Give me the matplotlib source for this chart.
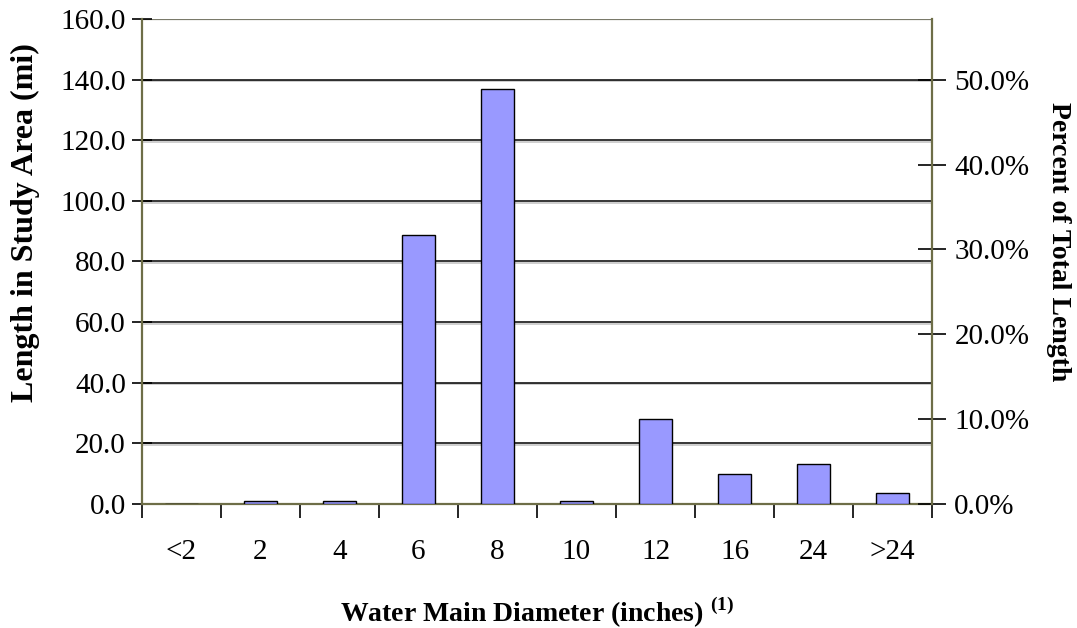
import numpy as np
import matplotlib.pyplot as plt
import matplotlib.patheffects as pe

# pipe length by diameter class
diameters = ['<2', '2', '4', '6', '8', '10', '12', '16', '24', '>24']
length_mi = [0.0, 1.0, 1.0, 88.6, 136.9, 1.0, 28.0, 9.9, 13.2, 3.6]
total_mi = 280.0  # total mains length used for the percent scale

plt.rcParams['font.family'] = ['Liberation Serif', 'DejaVu Serif']
plt.rcParams['mathtext.fontset'] = 'custom'
plt.rcParams['mathtext.rm'] = 'Liberation Serif'
plt.rcParams['mathtext.bf'] = 'Liberation Serif:bold'

fig = plt.figure(figsize=(10.77, 6.28), dpi=100)
ax = fig.add_axes([0.1318, 0.1975, 0.7336, 0.7722])

x = np.arange(len(diameters)) + 0.5
bars = ax.bar(x, length_mi, width=0.41, color='#9999ff', edgecolor='black', linewidth=1.0, zorder=3)
for b in bars:
    b.set_path_effects([pe.SimplePatchShadow(offset=(1.2, -1.2), shadow_rgbFace='#888888', alpha=0.6), pe.Normal()])

ax.set_xlim(0, len(diameters))
ax.set_ylim(0, 160)
ax.set_yticks(np.arange(0, 161, 20))
ax.set_yticklabels(['%.1f' % v for v in np.arange(0, 161, 20)], fontsize=21)
grid_fx = [pe.SimpleLineShadow(offset=(0, -1.2), shadow_color='#999999', alpha=0.6), pe.Normal()]
for v in range(20, 141, 20):
    ax.axhline(v, color='black', lw=1.1, zorder=1, path_effects=grid_fx)
ax.axhline(160, color='#7a7a6a', lw=1.6, zorder=1)

# category labels centred, tick marks on the category edges
ax.set_xticks(x)
ax.set_xticklabels(diameters, fontsize=21)
ax.set_xticks(np.arange(0, len(diameters) + 1), minor=True)
ax.tick_params(axis='x', which='major', length=0, pad=25)
ax.tick_params(axis='x', which='minor', direction='out', length=10, width=1.2, color='black')
ax.tick_params(axis='y', direction='inout', length=15, width=1.2, color='black', pad=4)

for side in ['left', 'bottom']:
    ax.spines[side].set_color('#6e6e48')
    ax.spines[side].set_linewidth(1.6)
ax.spines['top'].set_visible(False)
ax.spines['right'].set_visible(False)

ax.set_ylabel('Length in Study Area (mi)', fontsize=23, fontweight='bold', va='center')
ax.yaxis.set_label_coords(-0.148, 0.581)
ax.set_xlabel('Water Main Diameter (inches) $^{\\mathbf{(1)}}$', fontsize=20, fontweight='bold')
ax.xaxis.set_label_coords(0.5, -0.2227)
ax.xaxis.label.set_va('center')

# percent of total on the right
ax2 = ax.twinx()
ax2.set_ylim(0, 160 / total_mi * 100)
ax2.set_yticks(np.arange(0, 51, 10))
ax2.set_yticklabels(['%.1f%%' % v for v in np.arange(0, 51, 10)], fontsize=21)
ax2.tick_params(axis='y', direction='inout', length=20, width=1.2, color='black', pad=6)
ax2.spines['right'].set_color('#6e6e48')
ax2.spines['right'].set_linewidth(1.6)
for side in ['left', 'bottom', 'top']:
    ax2.spines[side].set_visible(False)
ax2.set_ylabel('Percent of Total Length', fontsize=20, fontweight='bold', rotation=270, va='center')
ax2.yaxis.set_label_coords(1.1595, 0.542)

fig.savefig('out.png', dpi=100)
